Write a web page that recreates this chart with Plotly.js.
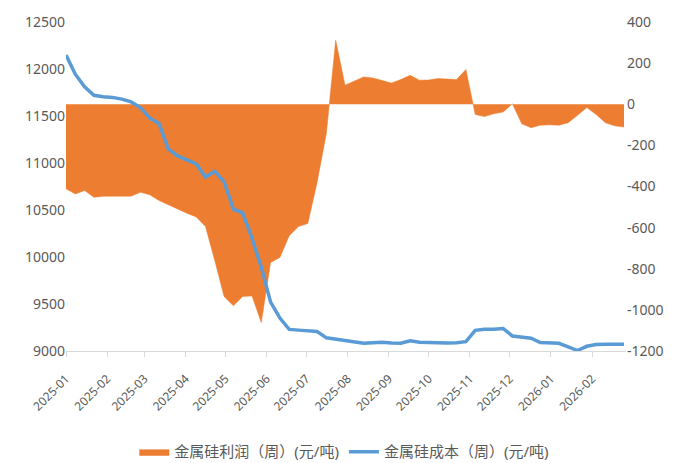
<!DOCTYPE html>
<html>
<head>
<meta charset="utf-8">
<script src="https://cdn.plot.ly/plotly-3.0.1.min.js"></script>
<style>
  html, body { margin: 0; padding: 0; background: #ffffff; }
  #chart { width: 674px; height: 463px; }
</style>
</head>
<body>
<div id="chart"></div>
<script>
// Weekly observations (Wednesdays), 2025-01-01 through 2026-02-25
const startDate = '2025-01-01';
const weekCount = 61;

// Silicon metal profit, CNY/ton (right axis)
const profit = [
  -411, -436, -420, -452, -448, -448, -448, -447, -428, -440,
  -468, -489, -511, -530, -548, -595, -761, -935, -980, -935,
  -932, -1062, -769, -745, -640, -595, -580, -380, -140, 312,
  93, 115, 133, 128, 115, 103, 120, 141, 117, 118,
  125, 122, 120, 169, -50, -60, -46, -38, 2, -95,
  -114, -102, -100, -102, -90, -54, -16, -50, -90, -105,
  -111
];

// Silicon metal cost, CNY/ton (left axis)
const cost = [
  12150, 11945, 11810, 11720, 11705, 11698, 11680, 11650, 11590, 11480,
  11420, 11150, 11075, 11030, 10990, 10850, 10913, 10800, 10510, 10470,
  10200, 9890, 9520, 9350, 9230, 9222, 9217, 9208, 9140, 9125,
  9110, 9095, 9082, 9088, 9093, 9085, 9082, 9108, 9093, 9090,
  9083, 9085, 9089, 9099, 9220, 9231, 9231, 9240, 9160, 9145,
  9136, 9090, 9085, 9082, 9045, 9005, 9050, 9068, 9071, 9071,
  9071
];

// Axis tick values
const costTicks = [9000, 9500, 10000, 10500, 11000, 11500, 12000, 12500];
const profitTicks = [-1200, -1000, -800, -600, -400, -200, 0, 200, 400];

const seriesNames = ['金属硅利润（周）(元/吨)', '金属硅成本（周）(元/吨)'];

// Build the weekly date column
const dates = [];
const d0 = new Date(startDate + 'T00:00:00Z');
for (let i = 0; i < weekCount; i++) {
  const d = new Date(d0.getTime() + i * 7 * 86400000);
  dates.push(d.toISOString().slice(0, 10));
}

const orange = '#ED7D31';
const blue = '#5B9BD5';
const textGray = '#595959';
const font = 'Noto Sans, "Noto Sans CJK SC", sans-serif';

const traces = [
  {
    type: 'scatter',
    mode: 'lines',
    x: dates,
    y: profit,
    name: seriesNames[0],
    yaxis: 'y',
    fill: 'tozeroy',
    fillcolor: orange,
    line: { color: orange, width: 0.5 },
    hoverinfo: 'x+y'
  },
  {
    type: 'scatter',
    mode: 'lines',
    x: dates,
    y: cost,
    name: seriesNames[1],
    yaxis: 'y2',
    line: { color: blue, width: 3.5 },
    hoverinfo: 'x+y'
  }
];

const layout = {
  width: 674,
  height: 463,
  margin: { l: 66, r: 48, t: 22, b: 112 },
  paper_bgcolor: '#ffffff',
  plot_bgcolor: '#ffffff',
  font: { family: font, size: 13, color: textGray },
  showlegend: true,
  legend: {
    orientation: 'h',
    xref: 'paper',
    x: 0.497, xanchor: 'center',
    yref: 'container',
    y: 0.024, yanchor: 'middle',
    font: { family: font, size: 15, color: textGray },
    itemwidth: 30,
    traceorder: 'normal'
  },
  xaxis: {
    type: 'date',
    range: ['2025-01-01', '2026-02-26 12:00'],
    dtick: 'M1',
    tick0: '2025-01-01',
    tickformat: '%Y-%m',
    tickangle: -45,
    ticks: 'outside',
    ticklen: 5,
    tickcolor: '#d9d9d9',
    ticklabelstandoff: 10,
    showline: true,
    linecolor: '#d9d9d9',
    linewidth: 1,
    showgrid: false,
    zeroline: false,
    automargin: false,
    tickfont: { family: font, size: 12, color: textGray }
  },
  // profit axis on the right
  yaxis: {
    side: 'right',
    range: [-1200, 400],
    tickmode: 'array',
    tickvals: profitTicks,
    ticktext: profitTicks.map(String),
    showgrid: false,
    zeroline: false,
    showline: false,
    ticks: '',
    automargin: false,
    tickfont: { family: font, size: 14, color: textGray }
  },
  // cost axis on the left
  yaxis2: {
    side: 'left',
    overlaying: 'y',
    range: [9000, 12500],
    tickmode: 'array',
    tickvals: costTicks,
    ticktext: costTicks.map(String),
    showgrid: false,
    zeroline: false,
    showline: false,
    ticks: '',
    automargin: false,
    tickfont: { family: font, size: 14, color: textGray }
  }
};

Plotly.newPlot('chart', traces, layout, { displayModeBar: false, staticPlot: true });
</script>
</body>
</html>
